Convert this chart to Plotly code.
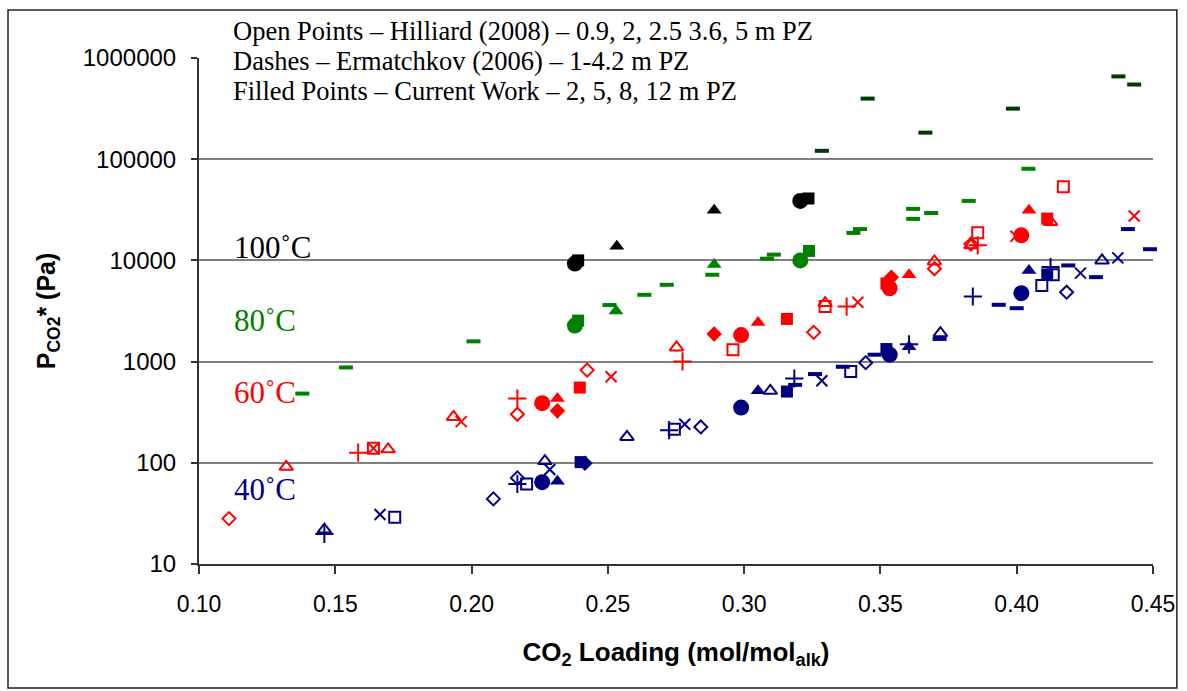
import math
import plotly.graph_objects as go

# ---------------- data ----------------
# Current work (filled points): loading, PCO2* (Pa), concentration (m PZ)
cw100_load = [0.2379, 0.2391, 0.2533, 0.2890, 0.3206, 0.3236]
cw100_pco2 = [9300, 10000, 13800, 31300, 38700, 40900]
cw100_conc = ["8", "12", "5", "5", "8", "12"]

cw80_load = [0.2379, 0.2391, 0.2530, 0.2890, 0.3206, 0.3238]
cw80_pco2 = [2270, 2540, 3160, 9130, 10000, 12400]
cw80_conc = ["8", "12", "5", "5", "8", "12"]

cw60_load = [0.2259, 0.2989, 0.3534, 0.4017,
             0.2315, 0.3051, 0.3605, 0.4045,
             0.2315, 0.2890, 0.3540,
             0.2397, 0.3157, 0.3522, 0.4112]
cw60_pco2 = [388, 1830, 5310, 17700,
             432, 2430, 7210, 31300,
             326, 1875, 6820,
             554, 2640, 5920, 25900]
cw60_conc = ["8", "8", "8", "8",
             "5", "5", "5", "5",
             "2", "2", "2",
             "12", "12", "12", "12"]

cw40_load = [0.2259, 0.2989, 0.3534, 0.4017,
             0.2315, 0.3051, 0.3605, 0.4045,
             0.2400, 0.3157, 0.3522, 0.4112,
             0.2416]
cw40_pco2 = [64.4, 351, 1170, 4740,
             65.9, 514, 1400, 7960,
             101.6, 506, 1330, 7260,
             99]
cw40_conc = ["8", "8", "8", "8",
             "5", "5", "5", "5",
             "12", "12", "12", "12",
             "2"]

# Hilliard (2008) (open points)
hil60_load = [0.1110, 0.2168, 0.2424, 0.3255, 0.3698, 0.3832,
              0.1320, 0.1694, 0.1934, 0.2752, 0.3297, 0.3698, 0.3832, 0.4124,
              0.1640, 0.2959, 0.3297, 0.3857, 0.4171,
              0.1640, 0.1962, 0.2512, 0.3417, 0.3997, 0.4431,
              0.1584, 0.2168, 0.2774, 0.3376, 0.3857]
hil60_pco2 = [28.1, 302, 824, 1946, 8270, 14500,
              91.2, 136, 284, 1380, 3790, 9770, 14090, 24000,
              139, 1311, 3500, 18800, 53400,
              139, 255, 708, 3860, 17300, 27500,
              126, 432, 1003, 3500, 14090]
hil60_conc = ["0.9"] * 6 + ["2"] * 8 + ["2.5"] * 5 + ["3.6"] * 6 + ["5"] * 5

hil40_load = [0.2080, 0.2168, 0.2841, 0.3446, 0.4183,
              0.1460, 0.2269, 0.2570, 0.3096, 0.3720, 0.4313,
              0.1718, 0.2202, 0.2744, 0.3391, 0.4092, 0.4134,
              0.1664, 0.2287, 0.2782, 0.3285, 0.4234, 0.4371,
              0.1460, 0.2168, 0.2725, 0.3184, 0.3605, 0.3839, 0.4124]
hil40_pco2 = [44, 70.9, 226, 975, 4850,
              21.9, 104, 180, 514, 1910, 10000,
              29, 61.9, 214, 798, 5650, 7210,
              30.8, 86, 240, 646, 7480, 10600,
              19.8, 61.9, 210, 681, 1480, 4400, 8590]
hil40_conc = ["0.9"] * 5 + ["2"] * 6 + ["2.5"] * 6 + ["3.6"] * 6 + ["5"] * 7

# Ermatchkov (2006) (dashes)
erm100_load = [0.3285, 0.3453, 0.3665, 0.3986, 0.4373, 0.4431]
erm100_pco2 = [121000, 397000, 183000, 316000, 658000, 547000]

erm80_load = [0.1379, 0.1539, 0.2007, 0.2506, 0.2634, 0.2716, 0.2883, 0.3084,
              0.3109, 0.3401, 0.3425, 0.3620, 0.3620, 0.3686, 0.3824, 0.4043]
erm80_pco2 = [483, 875, 1585, 3620, 4570, 5740, 7210, 10400,
              11400, 18700, 20400, 32300, 25700, 29400, 38700, 80400]

erm40_load = [0.3187, 0.3260, 0.3362, 0.3479, 0.3717, 0.3934, 0.4000,
              0.4189, 0.4291, 0.4408, 0.4489]
erm40_pco2 = [589, 753, 889, 1170, 1675, 3640, 3370, 8920, 6830, 20400, 12900]

x_ticks = [0.10, 0.15, 0.20, 0.25, 0.30, 0.35, 0.40, 0.45]
y_ticks = [10, 100, 1000, 10000, 100000, 1000000]

legend_lines = ["Open Points \u2013 Hilliard (2008) \u2013 0.9, 2, 2.5 3.6, 5 m PZ",
                "Dashes \u2013 Ermatchkov (2006) \u2013 1-4.2 m PZ",
                "Filled Points \u2013 Current Work \u2013 2, 5, 8, 12 m PZ"]
temp_labels = ["100\u02daC", "80\u02daC", "60\u02daC", "40\u02daC"]
temp_label_pco2 = [13400, 2530, 500, 54]

# ---------------- styles ----------------
C_BLACK = "#000000"
C_GREEN = "#008000"
C_DKGREEN = "#003a00"
C_RED = "#ff0000"
C_NAVY = "#000080"
temp_colors = [C_BLACK, C_GREEN, C_RED, C_NAVY]

filled_sym = {"2": ("diamond", 12), "5": ("triangle-up", 13),
              "8": ("circle", 16), "12": ("square", 12)}
open_sym = {"0.9": ("diamond-open", 10), "2": ("triangle-up-open", 12),
            "2.5": ("square-open", 11), "3.6": ("x-thin-open", 11),
            "5": ("cross-thin-open", 13)}

fig = go.Figure()


def add_group(load, pco2, conc, color, symmap, lw):
    for key, (sym, size) in symmap.items():
        xs = [l for l, c in zip(load, conc) if c == key]
        ys = [p for p, c in zip(pco2, conc) if c == key]
        if not xs:
            continue
        fig.add_trace(go.Scatter(
            x=xs, y=ys, mode="markers", cliponaxis=False, showlegend=False,
            marker=dict(symbol=sym, size=size, color=color,
                        line=dict(color=color, width=lw))))


def add_dashes(load, pco2, color):
    fig.add_trace(go.Scatter(
        x=load, y=pco2, mode="markers", cliponaxis=False, showlegend=False,
        marker=dict(symbol="line-ew", size=10, color=color,
                    line=dict(color=color, width=4))))


add_dashes(erm100_load, erm100_pco2, C_DKGREEN)
add_dashes(erm80_load, erm80_pco2, C_GREEN)
add_dashes(erm40_load, erm40_pco2, C_NAVY)

add_group(hil60_load, hil60_pco2, hil60_conc, C_RED, open_sym, 2)
add_group(hil40_load, hil40_pco2, hil40_conc, C_NAVY, open_sym, 2)

add_group(cw100_load, cw100_pco2, cw100_conc, C_BLACK, filled_sym, 0)
add_group(cw80_load, cw80_pco2, cw80_conc, C_GREEN, filled_sym, 0)
add_group(cw60_load, cw60_pco2, cw60_conc, C_RED, filled_sym, 0)
add_group(cw40_load, cw40_pco2, cw40_conc, C_NAVY, filled_sym, 0)

# legend-like text block
for i, txt in enumerate(legend_lines):
    fig.add_annotation(xref="paper", yref="paper", x=0.034, y=1.054 - i * 0.0600,
                       text=txt, showarrow=False, xanchor="left", yanchor="middle",
                       font=dict(family="Liberation Serif", size=26.5, color="black"))

# temperature labels (log axis: annotation y given as log10)
for txt, yv, col in zip(temp_labels, temp_label_pco2, temp_colors):
    fig.add_annotation(x=0.112, y=math.log10(yv), xref="x", yref="y", text=txt,
                       showarrow=False, xanchor="left", yanchor="middle",
                       font=dict(family="Liberation Serif", size=31, color=col))

# outer frame
fig.add_shape(type="rect", xref="paper", yref="paper",
              x0=-0.2002, x1=1.025, y0=-0.245, y1=1.0949,
              line=dict(color="#222222", width=1.5), fillcolor="rgba(0,0,0,0)", layer="below")

fig.update_layout(
    width=1187, height=691,
    margin=dict(l=199, r=29, t=58, b=127),
    paper_bgcolor="white", plot_bgcolor="white",
    font=dict(family="Liberation Sans", color="black"),
    xaxis=dict(range=[0.10, 0.45], tickvals=x_ticks,
               ticktext=[f"{v:.2f}" for v in x_ticks],
               showgrid=False, zeroline=False,
               showline=True, linecolor="#333333", linewidth=2,
               ticks="outside", ticklen=8, tickwidth=1.5, tickcolor="#333333",
               tickfont=dict(family="Liberation Sans", size=23, color="black"),
               ticklabelstandoff=10,
               title=dict(text="<b>CO<sub>2</sub> Loading (mol/mol<sub>alk</sub>)</b>",
                          font=dict(family="Liberation Sans", size=26, color="black"),
                          standoff=27)),
    yaxis=dict(type="log", range=[1, 6], tickvals=y_ticks,
               ticktext=[str(v) for v in y_ticks],
               showgrid=True, gridcolor="#808080", gridwidth=1.5,
               zeroline=False,
               showline=True, linecolor="#333333", linewidth=2,
               ticks="outside", ticklen=6, tickwidth=1.5, tickcolor="#333333",
               tickfont=dict(family="Liberation Sans", size=24, color="black"),
               ticklabelstandoff=10,
               title=dict(text="<b>P<sub>CO2</sub>* (Pa)</b>",
                          font=dict(family="Liberation Sans", size=25, color="black"),
                          standoff=20)),
)

fig.write_html("out.html")
